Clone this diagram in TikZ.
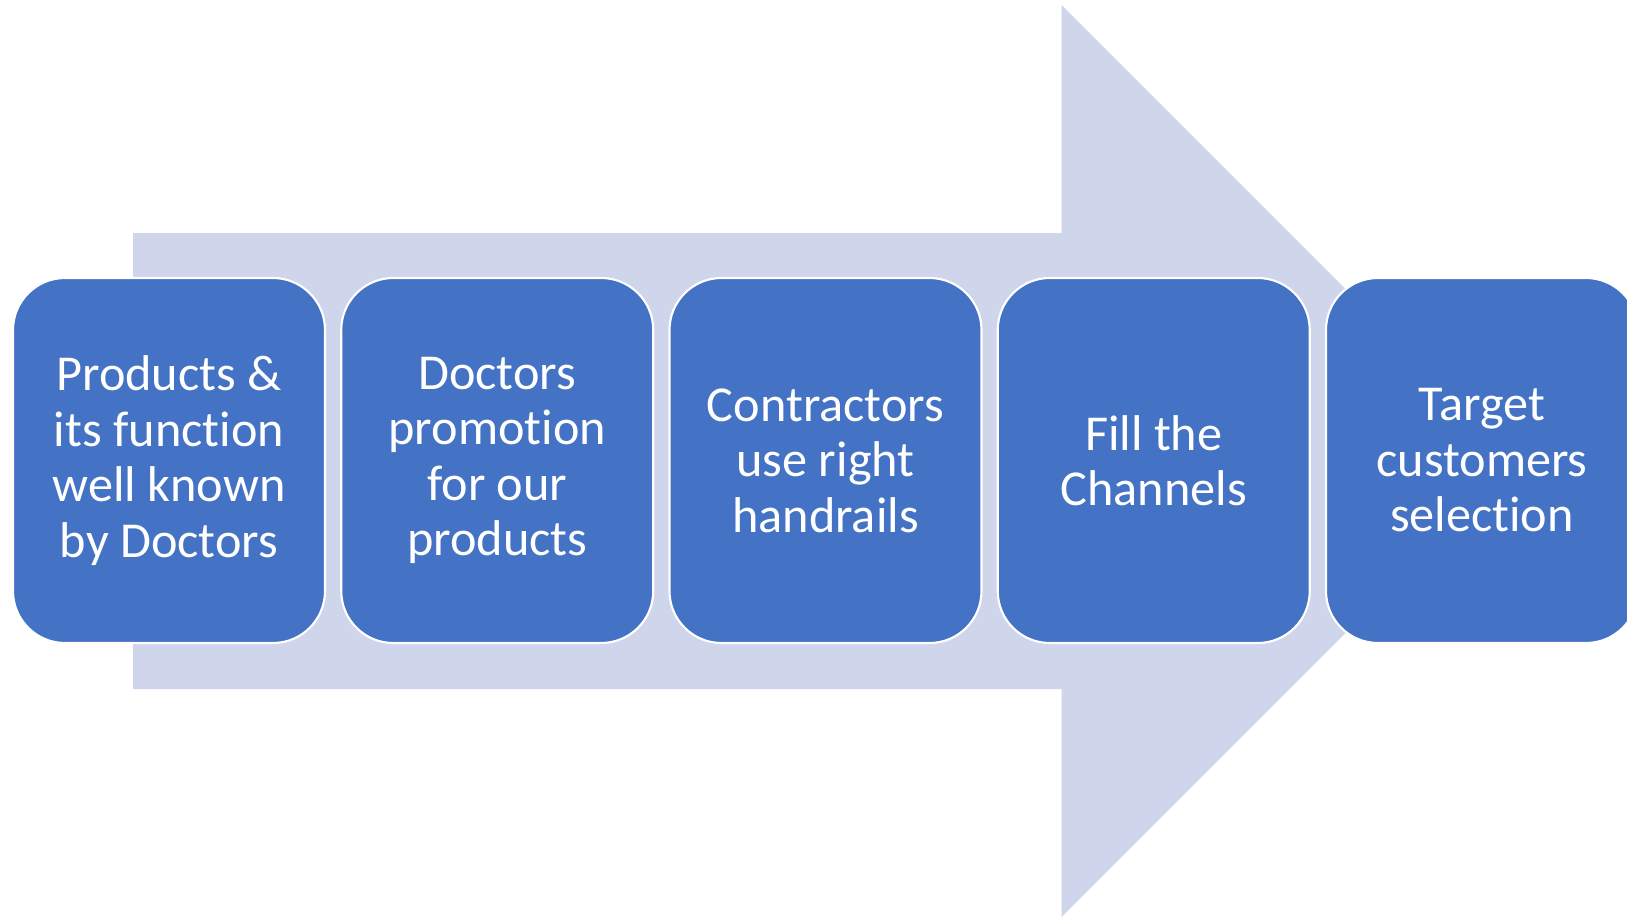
\documentclass[tikz,border=0pt]{standalone}
\usepackage{fontspec}
\setmainfont[Ligatures=NoCommon]{Carlito}
\definecolor{stepblue}{HTML}{4472C4}
\definecolor{arrowgrey}{HTML}{CFD5EA}

\begin{document}
\begin{tikzpicture}
\useasboundingbox (0,0) rectangle (16.27,9.17);
\clip (0,0) rectangle (16.27,9.17);

% big arrow in the back
\fill[arrowgrey] (1.33,2.28) -- (10.615,2.28) -- (10.615,0) -- (15.175,4.56)
    -- (10.615,9.12) -- (10.615,6.84) -- (1.33,6.84) -- cycle;

% the five steps
\foreach \t [count=\n] in {
    {Products \&\\its function\\well known\\by Doctors},
    {Doctors\\promotion\\for our\\products},
    {Contractors\\use right\\handrails},
    {Fill the\\Channels},
    {Target\\customers\\selection},
} {
    \node[fill=stepblue, draw=white, line width=0.6pt, rounded corners=0.52cm,
          minimum width=3.12cm, minimum height=3.65cm, text=white, align=center,
          font=\fontsize{14.3}{15.8}\selectfont] (step\n) at ({1.69+(\n-1)*3.2825},4.565) {\t};
  }
\end{tikzpicture}
\end{document}
